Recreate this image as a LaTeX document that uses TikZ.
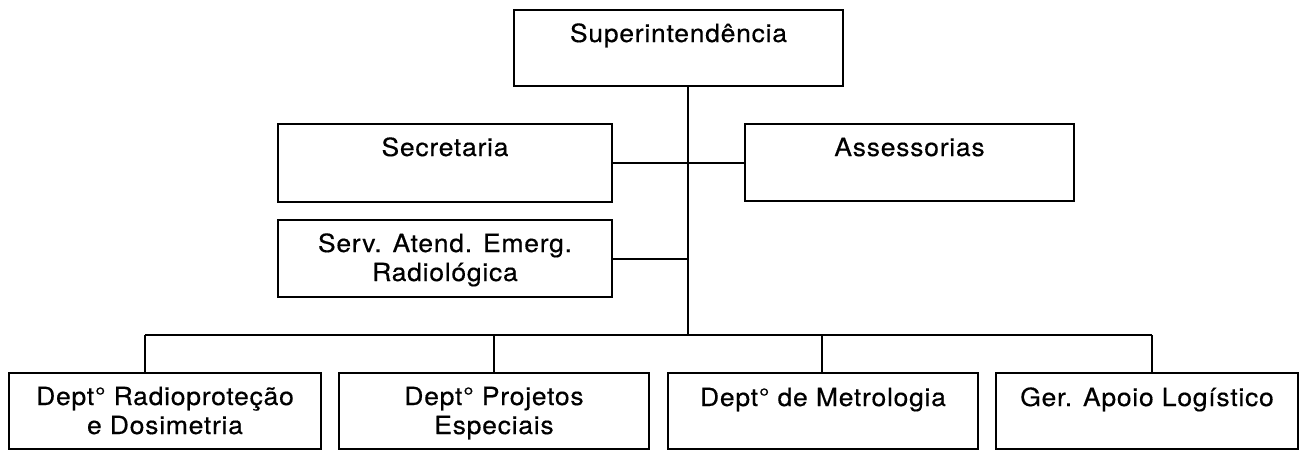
\documentclass[tikz,border=0pt]{standalone}
\usepackage{fontspec}
\setmainfont{TeX Gyre Heros}[FakeStretch=1.06, LetterSpace=3, FakeBold=0.4]
\begin{document}
\begin{tikzpicture}[x=1pt,y=-1pt,
  box/.style={draw, line width=2pt, rectangle, inner sep=0pt},
  txt/.style={anchor=base, align=center, inner sep=0pt, font=\fontsize{25}{29}\selectfont},
  conn/.style={line width=2pt}]
\useasboundingbox (0,0) rectangle (1300,450);
% boxes
\node[box, minimum width=329pt, minimum height=76pt] (sup) at (678.5,48) {};
\node[box, minimum width=334pt, minimum height=78pt] (sec) at (445,163) {};
\node[box, minimum width=329pt, minimum height=77pt] (ass) at (909.5,162.5) {};
\node[box, minimum width=334pt, minimum height=77pt] (serv) at (445,258.5) {};
\node[box, minimum width=312pt, minimum height=76pt] (d1) at (165,411) {};
\node[box, minimum width=310pt, minimum height=76pt] (d2) at (494,411) {};
\node[box, minimum width=310pt, minimum height=76pt] (d3) at (823,411) {};
\node[box, minimum width=302pt, minimum height=76pt] (d4) at (1147,411) {};
% texts (base anchor = baseline of the last line)
\node[txt] (tsup) at ([yshift=-33pt]sup.north) {Superintendência};
\node[txt] (tsec) at ([yshift=-33pt]sec.north) {Secretaria};
\node[txt] (tass) at ([yshift=-33pt]ass.north) {Assessorias};
\node[txt] (tserv) at ([yshift=-62pt]serv.north) {Serv. Atend. Emerg.\\Radiológica};
\node[txt] (td1) at ([yshift=-62pt]d1.north) {Dept° Radioproteção\\e Dosimetria};
\node[txt] (td2) at ([yshift=-62pt]d2.north) {Dept° Projetos\\Especiais};
\node[txt] (td3) at ([yshift=-34pt]d3.north) {Dept° de Metrologia};
\node[txt] (td4) at ([yshift=-34pt]d4.north) {Ger. Apoio Logístico};
% bus coordinates
\coordinate (bj) at (688,335);
\coordinate (b1) at (145,335);
\coordinate (b2) at (494,335);
\coordinate (b3) at (822,335);
\coordinate (b4) at (1152,335);
% connectors
\draw[conn] (sup.south -| bj) -- (bj);
\draw[conn] (sec.east) -- (sec.east -| ass.west);
\draw[conn] (serv.east) -- (serv.east -| bj);
\draw[conn] (b1) -- (b4);
\draw[conn] (b1) -- (b1 |- d1.north);
\draw[conn] (b2) -- (b2 |- d2.north);
\draw[conn] (b3) -- (b3 |- d3.north);
\draw[conn] (b4) -- (b4 |- d4.north);
\end{tikzpicture}
\end{document}
